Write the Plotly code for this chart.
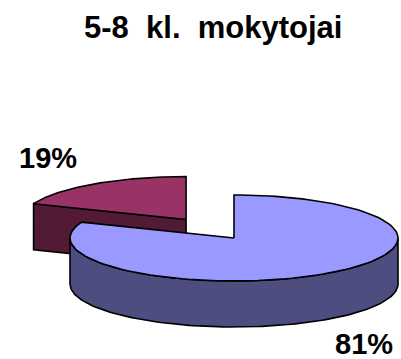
import numpy as np
import plotly.graph_objects as go

# Chart data
title_text = "5-8  kl.  mokytojai"
values = [81, 19]
top_colors = ["#9999FF", "#993366"]
side_colors = ["#4D4D80", "#521A35"]
explode = [0.0, 0.52]          # fraction of radius each slice is pulled out

# Page / pie geometry (pixel coordinates of the plotting area)
W, H = 401, 359
CX, CY = 234, 238               # centre of the pie's top face
RX, RY = 164, 43                # radii of the projected top ellipse
DEPTH = 46                      # thickness of the pie


def point(phi_deg, ox, oy, dz=0.0):
    """Screen point on the rim for a clockwise angle from 12 o'clock."""
    p = np.radians(phi_deg)
    return ox + RX * np.sin(p), oy - RY * np.cos(p) + dz


def arc(a0, a1, ox, oy, dz=0.0, n=120):
    ang = np.linspace(a0, a1, n)
    x, y = point(ang, ox, oy, dz)
    return list(x), list(y)


fig = go.Figure()
total = float(sum(values))
bounds = np.concatenate([[0], np.cumsum(values) / total * 360.0])
slices = []
for i, v in enumerate(values):
    s, e = bounds[i], bounds[i + 1]
    mid = np.radians((s + e) / 2)
    ox = CX + RX * explode[i] * np.sin(mid)
    oy = CY - RY * explode[i] * np.cos(mid)
    slices.append((i, s, e, ox, oy))

# Paint back slices first (the one pulled furthest back)
order = sorted(slices, key=lambda t: t[4])


def add_poly(xs, ys, color):
    fig.add_trace(go.Scatter(
        x=xs + [xs[0]], y=ys + [ys[0]], mode="lines", fill="toself",
        fillcolor=color, line=dict(color="black", width=1.6),
        hoverinfo="skip", showlegend=False))


for i, s, e, ox, oy in order:
    # radial cut faces that turn towards the viewer
    for ang, visible in ((s, np.sin(np.radians(s)) < -1e-6),
                         (e, np.sin(np.radians(e)) > 1e-6)):
        if visible:
            rx, ry = point(ang, ox, oy)
            add_poly([ox, float(rx), float(rx), ox],
                     [oy, float(ry), float(ry) + DEPTH, oy + DEPTH],
                     side_colors[i])
    # front part of the outer wall
    a0, a1 = max(s, 90.0), min(e, 270.0)
    if a1 > a0:
        tx, ty = arc(a0, a1, ox, oy)
        bx, by = arc(a1, a0, ox, oy, DEPTH)
        add_poly(tx + bx, ty + by, side_colors[i])
    # top face
    tx, ty = arc(s, e, ox, oy)
    add_poly([ox] + tx, [oy] + ty, top_colors[i])

# Percentage labels
label_pos = {0: (364, 344), 1: (48, 158)}
for i, v in enumerate(values):
    lx, ly = label_pos[i]
    fig.add_annotation(x=lx, y=ly, text=f"<b>{round(v / total * 100)}%</b>",
                       showarrow=False, xanchor="center", yanchor="middle",
                       font=dict(family="Liberation Sans, Arial", size=29,
                                 color="black"))

fig.add_annotation(x=213, y=27, text=f"<b>{title_text}</b>", showarrow=False,
                   xanchor="center", yanchor="middle",
                   font=dict(family="Liberation Sans, Arial", size=31,
                             color="black"))

fig.update_layout(
    width=W, height=H, margin=dict(l=0, r=0, t=0, b=0),
    paper_bgcolor="white", plot_bgcolor="white",
    xaxis=dict(range=[0, W], visible=False, fixedrange=True),
    yaxis=dict(range=[H, 0], visible=False, fixedrange=True),
)
fig.write_html("out.html")
